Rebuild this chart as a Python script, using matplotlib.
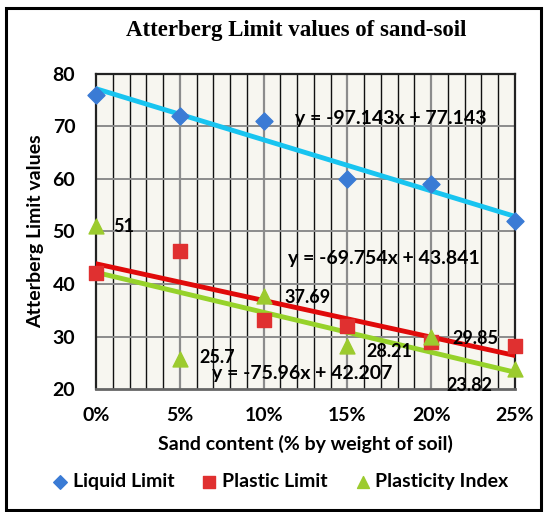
import matplotlib
matplotlib.use("Agg")
import matplotlib.pyplot as plt
import numpy as np
from matplotlib.patches import Rectangle

sand = [0.0, 0.05, 0.10, 0.15, 0.20, 0.25]
liquid = [76, 72, 71, 60, 59, 52]
plastic = [42.1, 46.3, 33.1, 32.0, 29.0, 28.2]
pindex = [51, 25.7, 37.69, 28.21, 29.85, 23.82]
pi_labels = ["51", "25.7", "37.69", "28.21", "29.85", "23.82"]
fit_ll = (-97.143, 77.143)
fit_pl = (-69.754, 43.841)
fit_pi = (-75.96, 42.207)
xticks = [0.0, 0.05, 0.10, 0.15, 0.20, 0.25]
xticklabels = ["0%", "5%", "10%", "15%", "20%", "25%"]
yticks = [20, 30, 40, 50, 60, 70, 80]

FONT = "Lato"
FS = 14
fig = plt.figure(figsize=(5.46, 5.12), dpi=100)
ax = fig.add_axes([0.176, 0.240, 0.767, 0.616])
ax.set_facecolor("#F7F6F0")
ax.set_xlim(0, 0.25)
ax.set_ylim(20, 80)

# grid
for xv in np.arange(0.01, 0.25, 0.01):
    if abs(round(xv * 100) % 5) < 1e-9:
        ax.axvline(xv, color="#8C8C8C", lw=1.6, zorder=1)
    else:
        ax.axvline(xv, color="#111111", lw=1.0, zorder=1)
for yv in yticks[1:-1]:
    ax.axhline(yv, color="#8C8C8C", lw=1.4, zorder=1)

xs = np.array([0, 0.25])
ax.plot(xs, fit_ll[0] * xs + fit_ll[1], color="#18C4F0", lw=3.5, zorder=3)
ax.plot(xs, fit_pl[0] * xs + fit_pl[1], color="#E00A0A", lw=3.5, zorder=3)
ax.plot(xs, fit_pi[0] * xs + fit_pi[1], color="#96D22A", lw=3.5, zorder=3)

ax.scatter(sand, liquid, marker="D", s=75, color="#3A7BD5", zorder=4, clip_on=False, label="Liquid Limit")
ax.scatter(sand, plastic, marker="s", s=115, color="#E03030", zorder=4, clip_on=False, label="Plastic Limit")
ax.scatter(sand, pindex, marker="^", s=115, color="#9CCB2E", zorder=4, clip_on=False, label="Plasticity Index")

# offsets in points (left edge of label relative to marker)
offsets = [(12, 0), (14, 1.5), (15, -1), (14, -4), (15, -1), (-49, -11.5)]
for x, y, t, (dx, dy) in zip(sand, pindex, pi_labels, offsets):
    ax.annotate(t, (x, y), xytext=(dx, dy), textcoords="offset points",
                fontsize=13, fontweight="bold", family=FONT, va="center", ha="left", zorder=5,
                annotation_clip=False)

ax.text(0.1185, 71.4, "y = -97.143x + 77.143", fontsize=FS, fontweight="bold", family=FONT, ha="left", va="center", zorder=5)
ax.text(0.1144, 44.8, "y = -69.754x + 43.841", fontsize=FS, fontweight="bold", family=FONT, ha="left", va="center", zorder=5)
ax.text(0.069, 23.0, "y = -75.96x + 42.207", fontsize=FS, fontweight="bold", family=FONT, ha="left", va="center", zorder=5)

for s in ax.spines.values():
    s.set_color("#222222")
    s.set_linewidth(1.6)
ax.spines["bottom"].set_color("#666666")
ax.spines["bottom"].set_linewidth(2)

ax.set_xticks(xticks)
ax.set_xticklabels(xticklabels)
ax.set_yticks(yticks)
ax.tick_params(length=0)
ax.tick_params(axis="x", pad=13)
ax.tick_params(axis="y", pad=15)
for lab in ax.get_xticklabels() + ax.get_yticklabels():
    lab.set_fontsize(FS)
    lab.set_fontweight("bold")
    lab.set_family(FONT)

ax.set_xlabel("Sand content (% by weight of soil)", fontsize=FS, fontweight="bold", family=FONT, labelpad=8)
ax.set_ylabel("Atterberg Limit values", fontsize=FS, fontweight="bold", family=FONT, labelpad=6)

fig.text(0.542, 0.94, "Atterberg Limit values of sand-soil", fontsize=16.5, fontweight="bold",
         family="Liberation Serif", ha="center", va="center")

leg = fig.legend(loc="center", bbox_to_anchor=(0.51, 0.06), ncol=3, frameon=False,
                 handletextpad=0.05, columnspacing=1.2, markerscale=0.8, handlelength=1.2,
                 prop={"family": FONT, "weight": "bold", "size": FS})

fig.patches.append(Rectangle((0.011, 0.004), 0.98, 0.98, transform=fig.transFigure,
                             fill=False, edgecolor="black", lw=2.2))

fig.savefig("out.png", dpi=100)
